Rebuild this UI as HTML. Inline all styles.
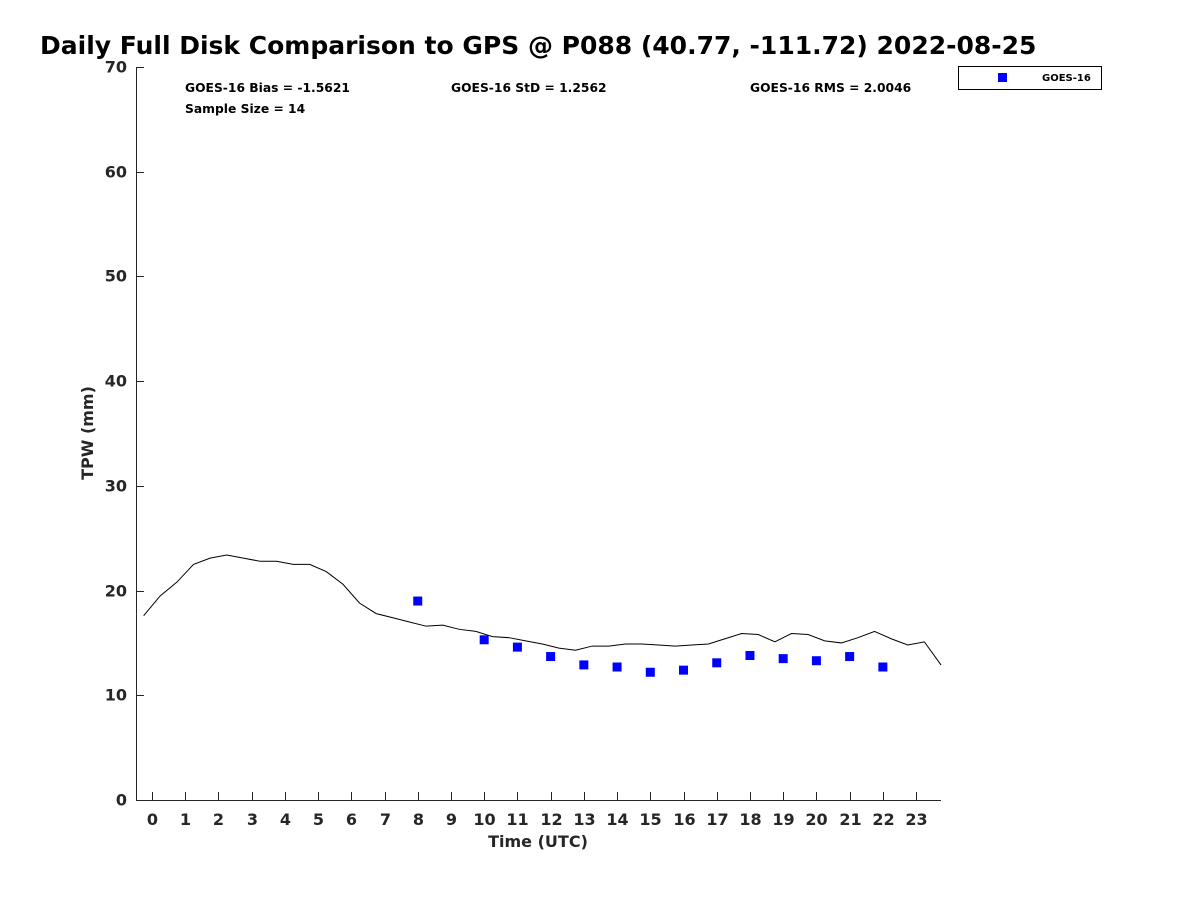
<!DOCTYPE html>
<html><head><meta charset="utf-8"><style>
body{margin:0;background:#fff;}
svg{display:block;font-family:"DejaVu Sans","Liberation Sans",sans-serif;font-weight:bold;}
</style></head><body>
<svg id="chart" width="1200" height="900" viewBox="0 0 1200 900">
<text x="40" y="54" font-size="25" fill="#000">Daily Full Disk Comparison to GPS @ P088 (40.77, -111.72) 2022-08-25</text>
<g id="axes"></g>
<g id="series"></g>
<text x="185" y="92" font-size="12.3">GOES-16 Bias = -1.5621</text>
<text x="185" y="113" font-size="12.3">Sample Size = 14</text>
<text x="451" y="92" font-size="12.3">GOES-16 StD = 1.2562</text>
<text x="750" y="92" font-size="12.3">GOES-16 RMS = 2.0046</text>
<g>
<rect x="958.5" y="66.5" width="143" height="23" fill="#fff" stroke="#000" stroke-width="1"/>
<rect x="998" y="73" width="9" height="9" fill="#0000ff"/>
<text x="1042" y="81" font-size="10">GOES-16</text>
</g>
<text x="538" y="847" font-size="16" text-anchor="middle" fill="#262626">Time (UTC)</text>
<text transform="translate(93,433) rotate(-90)" font-size="16" text-anchor="middle" fill="#262626">TPW (mm)</text>
</svg>
<script>
const gpsHours=[-0.25,0.25,0.75,1.25,1.75,2.25,2.75,3.25,3.75,4.25,4.75,5.25,5.75,6.25,6.75,7.25,7.75,8.25,8.75,9.25,9.75,10.25,10.75,11.25,11.75,12.25,12.75,13.25,13.75,14.25,14.75,15.25,15.75,16.25,16.75,17.25,17.75,18.25,18.75,19.25,19.75,20.25,20.75,21.25,21.75,22.25,22.75,23.25,23.75];
const gpsTPW=[17.6,19.5,20.8,22.5,23.1,23.4,23.1,22.8,22.8,22.5,22.5,21.8,20.6,18.8,17.8,17.4,17.0,16.6,16.7,16.3,16.1,15.6,15.5,15.2,14.9,14.5,14.3,14.7,14.7,14.9,14.9,14.8,14.7,14.8,14.9,15.4,15.9,15.8,15.1,15.9,15.8,15.2,15.0,15.5,16.1,15.4,14.8,15.1,12.9];
const goesHours=[8,10,11,12,13,14,15,16,17,18,19,20,21,22];
const goesTPW=[19.0,15.3,14.6,13.7,12.9,12.7,12.2,12.4,13.1,13.8,13.5,13.3,13.7,12.7];
const xTicks=[0,1,2,3,4,5,6,7,8,9,10,11,12,13,14,15,16,17,18,19,20,21,22,23];
const yTicks=[0,10,20,30,40,50,60,70];
const NS="http://www.w3.org/2000/svg";
const X0=136,X1=941,Y0=800,Y1=67,xMin=-0.48,xMax=23.75,yMin=0,yMax=70;
const xs=v=>X0+(v-xMin)/(xMax-xMin)*(X1-X0);
const ys=v=>Y0-(v-yMin)/(yMax-yMin)*(Y0-Y1);
function mk(t,a,p){const e=document.createElementNS(NS,t);for(const k in a)e.setAttribute(k,a[k]);p.appendChild(e);return e;}
const ax=document.getElementById('axes'),se=document.getElementById('series');
let l=mk('path',{d:`M${X0+0.5},${Y1} V${Y0+0.5} H${X1}`,stroke:'#262626','stroke-width':1,fill:'none'},ax);


xTicks.forEach(v=>{const x=Math.round(xs(v))+0.5;
 const t=mk('line',{x1:x,x2:x,y1:Y0,y2:Y0-8,stroke:'#262626'},ax);
 
 
 const s=mk('text',{x:x,y:825,'font-size':16,'text-anchor':'middle',fill:'#262626'},ax);s.textContent=v;
 
 });
yTicks.forEach(v=>{const y=Math.round(ys(v))+0.5;
 const t=mk('line',{x1:X0,x2:X0+8,y1:y,y2:y,stroke:'#262626'},ax);
 
 
 const s=mk('text',{x:127,y:y+5,'font-size':16,'text-anchor':'end',fill:'#262626'},ax);s.textContent=v;
 
 });
const line=mk('polyline',{points:gpsHours.map((h,i)=>xs(h)+','+ys(gpsTPW[i])).join(' '),fill:'none',stroke:'#000','stroke-width':1},se);


goesHours.forEach((h,i)=>{const r=mk('rect',{x:xs(h)-4.5,y:ys(goesTPW[i])-4.5,width:9,height:9,fill:'#0000ff'},se);
 
 });
</script>
</body></html>
